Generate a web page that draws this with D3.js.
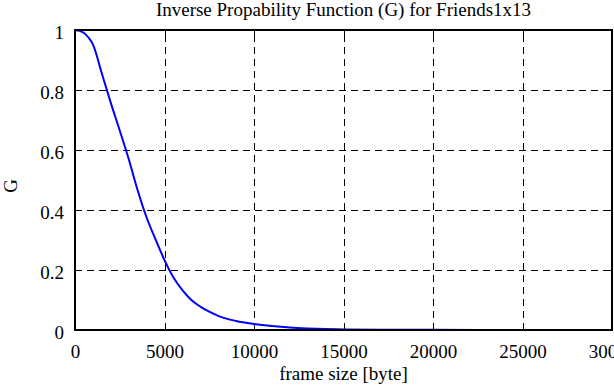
<!DOCTYPE html>
<html><head><meta charset="utf-8">
<script src="https://cdn.jsdelivr.net/npm/d3@7"></script>
<style>html,body{margin:0;padding:0;background:#fff;}svg{display:block;} svg text{font-family:'Liberation Serif','Times New Roman',serif !important;}</style>
</head><body>
<script>
const frameSize = [0, 250, 500, 750, 1000, 1500, 2000, 2500, 3000, 3500, 4000, 4500, 5000, 5500, 6000, 6500, 7000, 7500, 8000, 9000, 10000, 11000, 12000, 13000, 14000, 15000, 17000, 20000, 25000, 27400];
const gValues =   [1.0, 0.997, 0.99, 0.975, 0.952, 0.855, 0.757, 0.665, 0.57, 0.466, 0.375, 0.302, 0.233, 0.175, 0.133, 0.1, 0.078, 0.061, 0.047, 0.03, 0.02, 0.013, 0.008, 0.005, 0.003, 0.002, 0.001, 0.0005, 0.0002, 0.0];
const xTicks = [0, 5000, 10000, 15000, 20000, 25000, 30000];
const yTicks = [0, 0.2, 0.4, 0.6, 0.8, 1];
const xTickLabels = ["0", "5000", "10000", "15000", "20000", "25000", "30000"];
const yTickLabels = ["0", "0.2", "0.4", "0.6", "0.8", "1"];
const title = "Inverse Propability Function (G) for Friends1x13";
const xLabel = "frame size [byte]";
const yLabel = "G";

const W = 614, H = 385;
const m = {left: 75, right: 2, top: 30, bottom: 55};
const svg = d3.select("body").append("svg").attr("width", W).attr("height", H);

const x = d3.scaleLinear().domain([0, 30000]).range([m.left, W - m.right]);
const y = d3.scaleLinear().domain([0, 1]).range([H - m.bottom, m.top]);
const px = v => Math.round(v) + 0.5;

// grid
const grid = svg.append("g").attr("shape-rendering", "crispEdges");
grid.selectAll("line.vx").data(xTicks.slice(1, -1)).enter().append("line")
  .attr("x1", d => px(x(d))).attr("x2", d => px(x(d))).attr("y1", y(0)).attr("y2", y(1))
  .attr("stroke", "#000").attr("stroke-width", 1).attr("stroke-dasharray", "7,5");
grid.selectAll("line.hy").data(yTicks.slice(1, -1)).enter().append("line")
  .attr("y1", d => px(y(d))).attr("y2", d => px(y(d))).attr("x1", x(0)).attr("x2", x(30000))
  .attr("stroke", "#000").attr("stroke-width", 1).attr("stroke-dasharray", "7,5");

// axes labels
const xAxis = d3.axisBottom(x).tickValues(xTicks).tickSize(0).tickPadding(0)
  .tickFormat((d, i) => xTickLabels[i]);
const gx = svg.append("g").attr("transform", `translate(0,${y(0)})`).call(xAxis)
  .attr("font-family", null).attr("font-size", null);
gx.select(".domain").remove();
gx.selectAll("text").style("font-size", "19px")
  .attr("fill", "#000").attr("dy", null).attr("y", 28);

const yAxis = d3.axisLeft(y).tickValues(yTicks).tickSize(0).tickPadding(0)
  .tickFormat((d, i) => yTickLabels[i]);
const gy = svg.append("g").attr("transform", `translate(${x(0)},0)`).call(yAxis)
  .attr("font-family", null).attr("font-size", null);
gy.select(".domain").remove();
gy.selectAll("text").style("font-size", "19px")
  .attr("fill", "#000").attr("x", -11).attr("dy", null).attr("y", 8);

// inner tick marks
const tl = 6;
const ticks = svg.append("g").attr("shape-rendering", "crispEdges").attr("stroke", "#000").attr("stroke-width", 1.5);
ticks.selectAll("line.b").data(xTicks).enter().append("line")
  .attr("x1", d => px(x(d))).attr("x2", d => px(x(d))).attr("y1", y(0)).attr("y2", y(0) - tl);
ticks.selectAll("line.t").data(xTicks).enter().append("line")
  .attr("x1", d => px(x(d))).attr("x2", d => px(x(d))).attr("y1", y(1)).attr("y2", y(1) + tl);
ticks.selectAll("line.l").data(yTicks).enter().append("line")
  .attr("y1", d => px(y(d))).attr("y2", d => px(y(d))).attr("x1", x(0)).attr("x2", x(0) + tl);
ticks.selectAll("line.r").data(yTicks).enter().append("line")
  .attr("y1", d => px(y(d))).attr("y2", d => px(y(d))).attr("x1", x(30000)).attr("x2", x(30000) - tl);

// curve
const line = d3.line().x(d => x(d[0])).y(d => y(d[1])).curve(d3.curveMonotoneX);
svg.append("path").datum(frameSize.map((f, i) => [f, gValues[i]]))
  .attr("d", line).attr("fill", "none").attr("stroke", "#0000ff").attr("stroke-width", 2);

// frame
svg.append("rect").attr("x", x(0)).attr("y", y(1)).attr("width", x(30000) - x(0)).attr("height", y(0) - y(1))
  .attr("fill", "none").attr("stroke", "#000").attr("stroke-width", 2).attr("shape-rendering", "crispEdges");

// titles
svg.append("text").attr("x", (x(0) + x(30000)) / 2).attr("y", 16).attr("text-anchor", "middle")
  .style("font-size", "19px").text(title);
svg.append("text").attr("x", (x(0) + x(30000)) / 2).attr("y", 380).attr("text-anchor", "middle")
  .style("font-size", "19px").text(xLabel);
svg.append("text").attr("transform", `translate(17,${(y(0) + y(1)) / 2 + 6}) rotate(-90)`)
  .attr("text-anchor", "middle").style("font-size", "19px").text(yLabel);
</script>
</body></html>
